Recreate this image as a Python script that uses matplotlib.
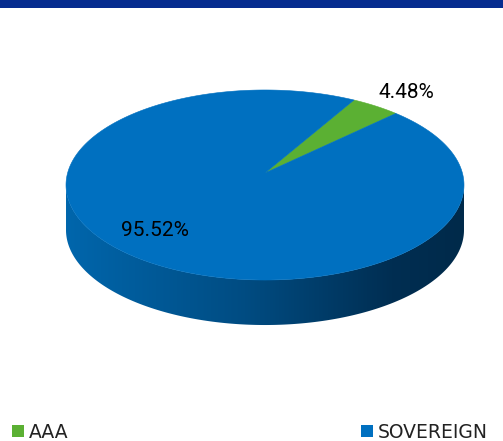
import numpy as np
import matplotlib
matplotlib.use("Agg")
import matplotlib.pyplot as plt
from matplotlib.patches import Polygon, Rectangle
from matplotlib.colors import LinearSegmentedColormap

# Portfolio split by rating
categories = ["AAA", "SOVEREIGN"]
shares = [4.48, 95.52]
colors = ["#5BB033", "#0070C0"]

W, H = 503, 441
fig = plt.figure(figsize=(W / 100, H / 100), dpi=100)
ax = fig.add_axes([0, 0, 1, 1])
ax.set_xlim(0, W)
ax.set_ylim(H, 0)
ax.axis("off")

# header band
ax.add_patch(Rectangle((0, 0), W, 8, color="#062C8F", lw=0))

# perspective-projected disc (pixel space)
cx, cy = 265.0, 173.0
A, B, k = 93.5, 197.4, 0.1263
depth = 45.0


def proj(theta_deg, r=1.0):
    t = np.radians(theta_deg)
    u = r * np.cos(t)
    w = -r * np.sin(t)
    den = 1.0 - k * w
    return cx + B * u / den, cy + A * w / den


# visible side wall (front half between silhouette tangents)
t_ext = np.degrees(np.arcsin(k))
th = np.linspace(180 + t_ext, 360 - t_ext, 300)
xs, ys = proj(th)
side_pts = np.concatenate([np.column_stack([xs, ys]),
                           np.column_stack([xs[::-1], ys[::-1] + depth])])
side = Polygon(side_pts, closed=True, facecolor="none", edgecolor="none")
ax.add_patch(side)
side_cmap = LinearSegmentedColormap.from_list(
    "side", [(0.0, "#0066AC"), (0.45, "#004C82"), (0.82, "#002E52"), (1.0, "#002A4A")])
grad = np.linspace(0, 1, 256).reshape(1, -1)
x0, x1 = xs.min(), xs.max()
im = ax.imshow(grad, cmap=side_cmap, aspect="auto",
               extent=[x0, x1, ys.max() + depth + 2, ys.min() - 2],
               interpolation="bilinear", zorder=1)
im.set_clip_path(side)

# top surface slices, clockwise from the start angle
start = 60.0
total = sum(shares)
a = start
for val, col in zip(shares, colors):
    sweep = 360.0 * val / total
    angs = np.linspace(a, a - sweep, max(int(sweep * 2), 8))
    px, py = proj(angs)
    pts = np.vstack([[cx, cy], np.column_stack([px, py])])
    ax.add_patch(Polygon(pts, closed=True, facecolor=col, edgecolor=col,
                         lw=0.4, zorder=2))
    a -= sweep

# value labels
label_font = ["Roboto", "DejaVu Sans"]
label_pos = [(406, 92), (155, 231)]
for val, (lx, ly) in zip(shares, label_pos):
    ax.text(lx, ly, f"{val:.2f}%", ha="center", va="center", fontsize=15,
            family=label_font, color="#000000", zorder=3)

# legend
legend_pos = [12, 361]
for name, col, lx in zip(categories, colors, legend_pos):
    ax.add_patch(Rectangle((lx, 425), 12, 12, color=col, lw=0))
    ax.text(lx + 17, 437.5, name, ha="left", va="baseline", fontsize=13.5,
            family="DejaVu Sans", color="#222222")

fig.savefig("out.png", dpi=100)
